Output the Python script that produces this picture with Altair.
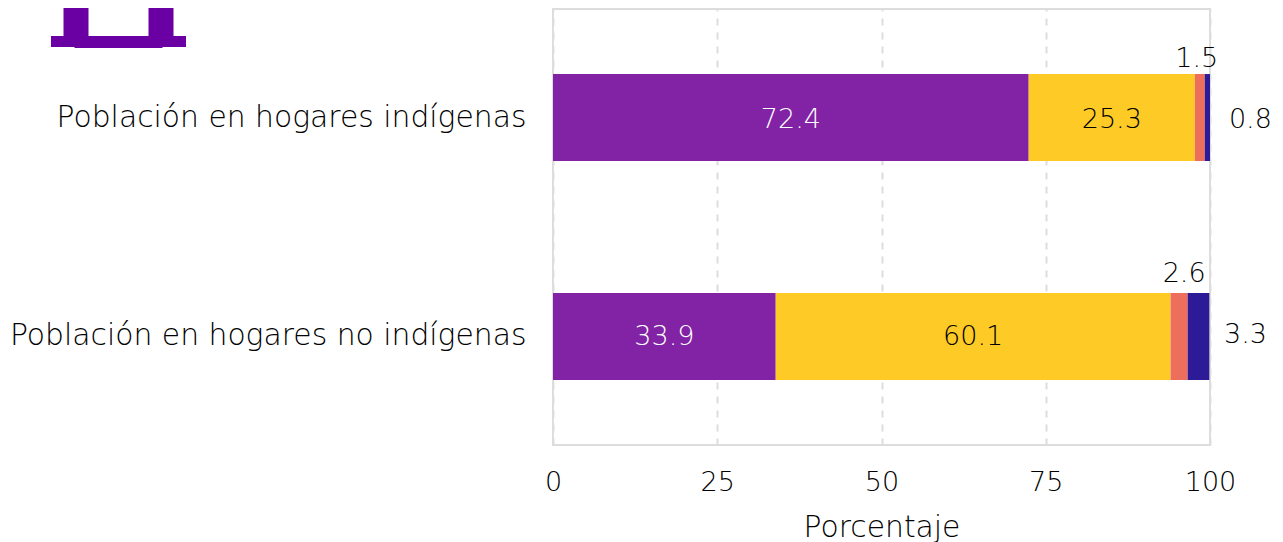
import altair as alt
import pandas as pd

FONT = "DejaVu Sans"
W = 200
SIZE = 27
WORD_SIZE = 29.8
INK = "#000000"
groups = ["Población en hogares indígenas", "Población en hogares no indígenas"]
cats = ["A", "B", "C", "D"]
colors = ["#8222a4", "#fdca26", "#ec6e5b", "#2d1a96"]
v_ind = [72.4, 25.3, 1.5, 0.8]
v_no = [33.9, 60.1, 2.6, 3.3]

rows = []
for g, vals in zip(groups, [v_ind, v_no]):
    c = 0
    for k, v in zip(cats, vals):
        rows.append(dict(g=g, k=k, v=v, x0=c, x1=c + v, mid=c + v / 2, lab=f"{v:.1f}"))
        c += v
df = pd.DataFrame(rows)

y = alt.Y("g:N", sort=groups, title=None,
          scale=alt.Scale(paddingInner=0.603, paddingOuter=0.297),
          axis=alt.Axis(domain=False, ticks=False, grid=False, labelPadding=27,
                        labelFontSize=WORD_SIZE, labelFont=FONT, labelFontWeight=W,
                        labelColor=INK, labelLimit=600))
x = alt.X("x0:Q", title="Porcentaje",
          scale=alt.Scale(domain=[0, 100], nice=False),
          axis=alt.Axis(values=[0, 25, 50, 75, 100], domain=False, ticks=False, grid=True,
                        gridColor="#dddddd", gridDash=[7, 7], gridWidth=2,
                        labelFontSize=SIZE, labelFont=FONT, labelFontWeight=W, labelColor=INK,
                        labelPadding=24, labelFlush=False, titleFontSize=WORD_SIZE, titleFont=FONT,
                        titleFontWeight=W, titleColor=INK, titlePadding=17))

bars = alt.Chart(df).mark_bar().encode(
    x=x, x2="x1:Q", y=y,
    color=alt.Color("k:N", scale=alt.Scale(domain=cats, range=colors), legend=None))

def label(g, k, dx, dy, color):
    d = df[(df.g == g) & (df.k == k)]
    return alt.Chart(d).mark_text(font=FONT, fontWeight=W, fontSize=SIZE, color=color, dx=dx, dy=dy).encode(
        x=alt.X("mid:Q"), y=alt.Y("g:N", sort=groups), text="lab:N")

layers = [bars,
    label(groups[0], "A", 0, 2, "white"), label(groups[0], "B", 0, 2, INK),
    label(groups[0], "C", -3, -59, INK), label(groups[0], "D", 43, 2, INK),
    label(groups[1], "A", 0, 1, "white"), label(groups[1], "B", 0, 1, INK),
    label(groups[1], "C", 5, -62, INK), label(groups[1], "D", 47, -1, INK),
]

u = 50.0
def P(px, py):
    return f"{px/u:.4f},{py/u:.4f}"
outline = [(-55, -28), (55, -28), (55, 8), (67.5, 8), (67.5, 19), (44, 19), (44, 20), (-44, 20), (-44, 19),
           (-67.5, 19), (-67.5, 8), (-55, 8)]
hole = [(-30, -20), (-30, 8), (30, 8), (30, -20)]
path = "M" + " L".join(P(*p) for p in outline) + " Z M" + " L".join(P(*p) for p in hole) + " Z"
icon = alt.Chart(pd.DataFrame({"a": [1]})).mark_point(
    shape=path, filled=True, opacity=1, color="#6a00a3", size=10000, clip=False
).encode(x=alt.value(118.5 - 553), y=alt.value(28 - 9))

chart = alt.layer(*layers, icon).properties(
    width=657, height=436,
    autosize=alt.AutoSizeParams(type="none"),
    padding={"left": 545, "top": 1, "right": 65, "bottom": 97},
).configure_view(stroke="#dddddd", strokeWidth=2).configure_axis(labelFontWeight=W)
chart.save("out.html", embed_options={"renderer": "svg", "actions": False})
